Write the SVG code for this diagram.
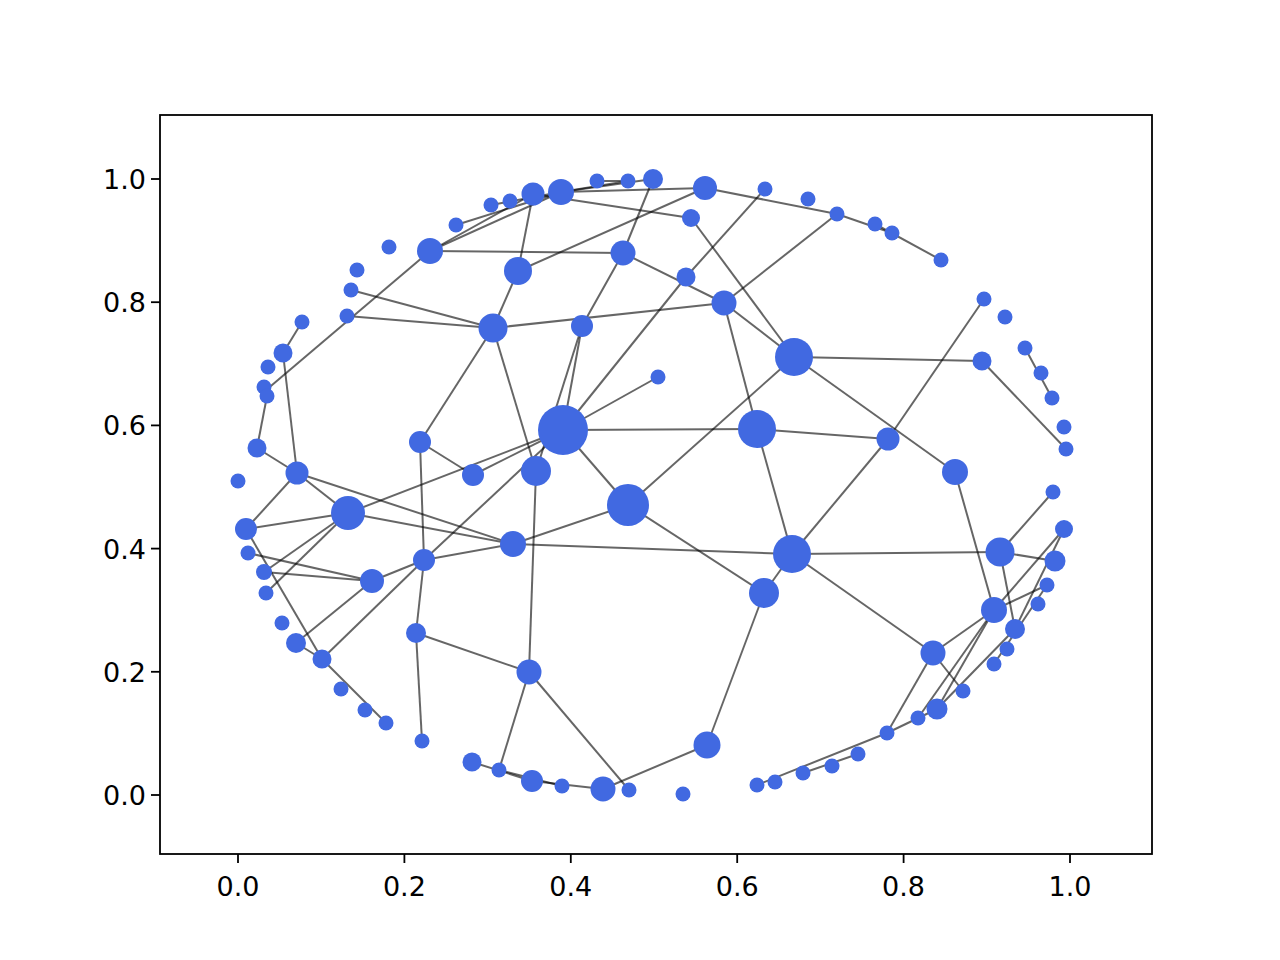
<svg xmlns="http://www.w3.org/2000/svg" width="1280" height="960" viewBox="0 0 1280 960">
<style>
.e{stroke:#000;stroke-opacity:0.6;stroke-width:2;fill:none}
.n{fill:#4169e1}
.t{font-family:"DejaVu Sans","Liberation Sans",sans-serif;font-size:27px;fill:#000}
.tk{stroke:#000;stroke-width:1.8}
</style>
<rect x="0" y="0" width="1280" height="960" fill="#fff"/>
<g id="axes">
<rect x="160" y="115" width="992" height="739" fill="none" stroke="#000" stroke-width="1.8"/>
<g class="tk">
<line x1="238" y1="854" x2="238" y2="863"/><line x1="404.4" y1="854" x2="404.4" y2="863"/><line x1="570.8" y1="854" x2="570.8" y2="863"/><line x1="737.2" y1="854" x2="737.2" y2="863"/><line x1="903.6" y1="854" x2="903.6" y2="863"/><line x1="1070" y1="854" x2="1070" y2="863"/>
<line x1="151" y1="795" x2="160" y2="795"/><line x1="151" y1="671.8" x2="160" y2="671.8"/><line x1="151" y1="548.6" x2="160" y2="548.6"/><line x1="151" y1="425.4" x2="160" y2="425.4"/><line x1="151" y1="302.2" x2="160" y2="302.2"/><line x1="151" y1="179" x2="160" y2="179"/>
</g>
<g class="t" text-anchor="middle">
<text x="238" y="896">0.0</text><text x="404.4" y="896">0.2</text><text x="570.8" y="896">0.4</text><text x="737.2" y="896">0.6</text><text x="903.6" y="896">0.8</text><text x="1070" y="896">1.0</text>
</g>
<g class="t" text-anchor="end">
<text x="146" y="805">0.0</text><text x="146" y="681.8">0.2</text><text x="146" y="558.6">0.4</text><text x="146" y="435.4">0.6</text><text x="146" y="312.2">0.8</text><text x="146" y="189">1.0</text>
</g>
</g>
<g id="edges" class="e">
<line x1="491" y1="205" x2="561" y2="192"/>
<line x1="533" y1="194" x2="691" y2="218"/>
<line x1="533" y1="194" x2="518" y2="271"/>
<line x1="561" y1="192" x2="705" y2="188"/>
<line x1="561" y1="192" x2="653" y2="179"/>
<line x1="561" y1="192" x2="628" y2="181"/>
<line x1="597" y1="181" x2="628" y2="181"/>
<line x1="653" y1="179" x2="623" y2="253"/>
<line x1="705" y1="188" x2="518" y2="271"/>
<line x1="705" y1="188" x2="837" y2="214"/>
<line x1="837" y1="214" x2="892" y2="233"/>
<line x1="875" y1="224" x2="941" y2="260"/>
<line x1="765" y1="189" x2="686" y2="277"/>
<line x1="686" y1="277" x2="563" y2="430"/>
<line x1="456" y1="225" x2="561" y2="192"/>
<line x1="430" y1="251" x2="533" y2="194"/>
<line x1="430" y1="251" x2="561" y2="192"/>
<line x1="430" y1="251" x2="623" y2="253"/>
<line x1="430" y1="251" x2="265" y2="391"/>
<line x1="267" y1="396" x2="257" y2="448"/>
<line x1="351" y1="290" x2="493" y2="328"/>
<line x1="347" y1="316" x2="493" y2="328"/>
<line x1="302" y1="322" x2="283" y2="353"/>
<line x1="283" y1="353" x2="297" y2="473"/>
<line x1="257" y1="448" x2="297" y2="473"/>
<line x1="297" y1="473" x2="246" y2="529"/>
<line x1="297" y1="473" x2="348" y2="513"/>
<line x1="297" y1="473" x2="513" y2="544"/>
<line x1="246" y1="529" x2="348" y2="513"/>
<line x1="246" y1="529" x2="322" y2="659"/>
<line x1="296" y1="643" x2="322" y2="659"/>
<line x1="322" y1="659" x2="386" y2="723"/>
<line x1="348" y1="513" x2="264" y2="572"/>
<line x1="348" y1="513" x2="266" y2="593"/>
<line x1="348" y1="513" x2="563" y2="430"/>
<line x1="348" y1="513" x2="513" y2="544"/>
<line x1="248" y1="553" x2="372" y2="581"/>
<line x1="264" y1="572" x2="372" y2="581"/>
<line x1="372" y1="581" x2="424" y2="560"/>
<line x1="372" y1="581" x2="296" y2="643"/>
<line x1="424" y1="560" x2="322" y2="659"/>
<line x1="424" y1="560" x2="416" y2="633"/>
<line x1="420" y1="442" x2="424" y2="560"/>
<line x1="424" y1="560" x2="563" y2="430"/>
<line x1="424" y1="560" x2="513" y2="544"/>
<line x1="416" y1="633" x2="529" y2="672"/>
<line x1="416" y1="633" x2="422" y2="741"/>
<line x1="420" y1="442" x2="493" y2="328"/>
<line x1="420" y1="442" x2="473" y2="475"/>
<line x1="473" y1="475" x2="563" y2="430"/>
<line x1="493" y1="328" x2="518" y2="271"/>
<line x1="493" y1="328" x2="536" y2="471"/>
<line x1="493" y1="328" x2="724" y2="303"/>
<line x1="623" y1="253" x2="582" y2="326"/>
<line x1="623" y1="253" x2="724" y2="303"/>
<line x1="582" y1="326" x2="563" y2="430"/>
<line x1="582" y1="326" x2="536" y2="471"/>
<line x1="691" y1="218" x2="794" y2="357"/>
<line x1="724" y1="303" x2="837" y2="214"/>
<line x1="724" y1="303" x2="794" y2="357"/>
<line x1="724" y1="303" x2="757" y2="429"/>
<line x1="628" y1="505" x2="794" y2="357"/>
<line x1="794" y1="357" x2="982" y2="361"/>
<line x1="794" y1="357" x2="955" y2="472"/>
<line x1="1066" y1="449" x2="982" y2="361"/>
<line x1="984" y1="299" x2="888" y2="439"/>
<line x1="1025" y1="348" x2="1052" y2="398"/>
<line x1="563" y1="430" x2="658" y2="377"/>
<line x1="563" y1="430" x2="757" y2="429"/>
<line x1="563" y1="430" x2="628" y2="505"/>
<line x1="628" y1="505" x2="513" y2="544"/>
<line x1="628" y1="505" x2="764" y2="593"/>
<line x1="513" y1="544" x2="792" y2="554"/>
<line x1="536" y1="471" x2="529" y2="672"/>
<line x1="529" y1="672" x2="499" y2="770"/>
<line x1="529" y1="672" x2="629" y2="790"/>
<line x1="707" y1="745" x2="603" y2="789"/>
<line x1="764" y1="593" x2="707" y2="745"/>
<line x1="472" y1="762" x2="532" y2="781"/>
<line x1="499" y1="770" x2="562" y2="786"/>
<line x1="532" y1="781" x2="603" y2="789"/>
<line x1="757" y1="429" x2="792" y2="554"/>
<line x1="757" y1="429" x2="888" y2="439"/>
<line x1="888" y1="439" x2="792" y2="554"/>
<line x1="792" y1="554" x2="764" y2="593"/>
<line x1="792" y1="554" x2="933" y2="653"/>
<line x1="792" y1="554" x2="1000" y2="552"/>
<line x1="1000" y1="552" x2="1053" y2="492"/>
<line x1="1000" y1="552" x2="1055" y2="561"/>
<line x1="1000" y1="552" x2="1015" y2="629"/>
<line x1="1064" y1="529" x2="1015" y2="629"/>
<line x1="1064" y1="529" x2="994" y2="610"/>
<line x1="955" y1="472" x2="994" y2="610"/>
<line x1="933" y1="653" x2="994" y2="610"/>
<line x1="933" y1="653" x2="963" y2="691"/>
<line x1="933" y1="653" x2="887" y2="733"/>
<line x1="994" y1="610" x2="1047" y2="585"/>
<line x1="994" y1="610" x2="918" y2="718"/>
<line x1="994" y1="610" x2="937" y2="709"/>
<line x1="1015" y1="629" x2="937" y2="709"/>
<line x1="994" y1="664" x2="1047" y2="585"/>
<line x1="757" y1="785" x2="887" y2="733"/>
<line x1="887" y1="733" x2="937" y2="709"/>
<line x1="803" y1="773" x2="858" y2="754"/>
</g>
<g class="n">
<g id="n1"><circle cx="491" cy="205" r="7.5"/></g>
<g id="n2"><circle cx="510" cy="201" r="7.5"/></g>
<g id="n3"><circle cx="533" cy="194" r="11.5"/></g>
<g id="n4"><circle cx="561" cy="192" r="13"/></g>
<g id="n5"><circle cx="597" cy="181" r="7.5"/></g>
<g id="n6"><circle cx="628" cy="181" r="7.5"/></g>
<g id="n7"><circle cx="653" cy="179" r="10"/></g>
<g id="n8"><circle cx="705" cy="188" r="12"/></g>
<g id="n9"><circle cx="765" cy="189" r="7.5"/></g>
<g id="n10"><circle cx="808" cy="199" r="7.5"/></g>
<g id="n11"><circle cx="837" cy="214" r="7.5"/></g>
<g id="n12"><circle cx="875" cy="224" r="7.5"/></g>
<g id="n13"><circle cx="892" cy="233" r="7.5"/></g>
<g id="n14"><circle cx="941" cy="260" r="7.5"/></g>
<g id="n15"><circle cx="456" cy="225" r="7.5"/></g>
<g id="n16"><circle cx="430" cy="251" r="13"/></g>
<g id="n17"><circle cx="389" cy="247" r="7.5"/></g>
<g id="n18"><circle cx="357" cy="270" r="7.5"/></g>
<g id="n19"><circle cx="351" cy="290" r="7.5"/></g>
<g id="n20"><circle cx="347" cy="316" r="7.5"/></g>
<g id="n21"><circle cx="302" cy="322" r="7.5"/></g>
<g id="n22"><circle cx="283" cy="353" r="9.5"/></g>
<g id="n23"><circle cx="268" cy="367" r="7.5"/></g>
<g id="n24"><circle cx="264" cy="387" r="7.5"/></g>
<g id="n25"><circle cx="267" cy="396" r="7.5"/></g>
<g id="n26"><circle cx="257" cy="448" r="9.5"/></g>
<g id="n27"><circle cx="238" cy="481" r="7.5"/></g>
<g id="n28"><circle cx="297" cy="473" r="11.5"/></g>
<g id="n29"><circle cx="246" cy="529" r="11"/></g>
<g id="n30"><circle cx="248" cy="553" r="7.5"/></g>
<g id="n31"><circle cx="264" cy="572" r="8"/></g>
<g id="n32"><circle cx="266" cy="593" r="7.5"/></g>
<g id="n33"><circle cx="282" cy="623" r="7.5"/></g>
<g id="n34"><circle cx="296" cy="643" r="10"/></g>
<g id="n35"><circle cx="322" cy="659" r="9.5"/></g>
<g id="n36"><circle cx="341" cy="689" r="7.5"/></g>
<g id="n37"><circle cx="365" cy="710" r="7.5"/></g>
<g id="n38"><circle cx="386" cy="723" r="7.5"/></g>
<g id="n39"><circle cx="348" cy="513" r="17"/></g>
<g id="n40"><circle cx="372" cy="581" r="12"/></g>
<g id="n41"><circle cx="424" cy="560" r="11"/></g>
<g id="n42"><circle cx="420" cy="442" r="11"/></g>
<g id="n43"><circle cx="473" cy="475" r="11"/></g>
<g id="n44"><circle cx="416" cy="633" r="10"/></g>
<g id="n45"><circle cx="422" cy="741" r="7.5"/></g>
<g id="n46"><circle cx="472" cy="762" r="9.5"/></g>
<g id="n47"><circle cx="499" cy="770" r="7.5"/></g>
<g id="n48"><circle cx="532" cy="781" r="11"/></g>
<g id="n49"><circle cx="562" cy="786" r="7.5"/></g>
<g id="n50"><circle cx="603" cy="789" r="12.5"/></g>
<g id="n51"><circle cx="629" cy="790" r="7.5"/></g>
<g id="n52"><circle cx="683" cy="794" r="7.5"/></g>
<g id="n53"><circle cx="529" cy="672" r="12.5"/></g>
<g id="n54"><circle cx="513" cy="544" r="13"/></g>
<g id="n55"><circle cx="536" cy="471" r="15"/></g>
<g id="n56"><circle cx="563" cy="430" r="25"/></g>
<g id="n57"><circle cx="628" cy="505" r="21"/></g>
<g id="n58"><circle cx="658" cy="377" r="7.5"/></g>
<g id="n59"><circle cx="582" cy="326" r="11"/></g>
<g id="n60"><circle cx="493" cy="328" r="14.5"/></g>
<g id="n61"><circle cx="518" cy="271" r="14"/></g>
<g id="n62"><circle cx="623" cy="253" r="12.5"/></g>
<g id="n63"><circle cx="686" cy="277" r="9.5"/></g>
<g id="n64"><circle cx="691" cy="218" r="9"/></g>
<g id="n65"><circle cx="724" cy="303" r="12.5"/></g>
<g id="n66"><circle cx="794" cy="357" r="19"/></g>
<g id="n67"><circle cx="757" cy="429" r="19"/></g>
<g id="n68"><circle cx="792" cy="554" r="19"/></g>
<g id="n69"><circle cx="764" cy="593" r="15"/></g>
<g id="n70"><circle cx="707" cy="745" r="13.5"/></g>
<g id="n71"><circle cx="757" cy="785" r="7.5"/></g>
<g id="n72"><circle cx="775" cy="782" r="7.5"/></g>
<g id="n73"><circle cx="803" cy="773" r="7.5"/></g>
<g id="n74"><circle cx="832" cy="766" r="7.5"/></g>
<g id="n75"><circle cx="858" cy="754" r="7.5"/></g>
<g id="n76"><circle cx="887" cy="733" r="7.5"/></g>
<g id="n77"><circle cx="918" cy="718" r="7.5"/></g>
<g id="n78"><circle cx="937" cy="709" r="10.5"/></g>
<g id="n79"><circle cx="963" cy="691" r="7.5"/></g>
<g id="n80"><circle cx="933" cy="653" r="12.5"/></g>
<g id="n81"><circle cx="888" cy="439" r="11.5"/></g>
<g id="n82"><circle cx="955" cy="472" r="13"/></g>
<g id="n83"><circle cx="984" cy="299" r="7.5"/></g>
<g id="n84"><circle cx="1005" cy="317" r="7.5"/></g>
<g id="n85"><circle cx="1025" cy="348" r="7.5"/></g>
<g id="n86"><circle cx="1041" cy="373" r="7.5"/></g>
<g id="n87"><circle cx="1052" cy="398" r="7.5"/></g>
<g id="n88"><circle cx="1064" cy="427" r="7.5"/></g>
<g id="n89"><circle cx="1066" cy="449" r="7.5"/></g>
<g id="n90"><circle cx="982" cy="361" r="9.5"/></g>
<g id="n91"><circle cx="1053" cy="492" r="7.5"/></g>
<g id="n92"><circle cx="1064" cy="529" r="9"/></g>
<g id="n93"><circle cx="1055" cy="561" r="10.5"/></g>
<g id="n94"><circle cx="1000" cy="552" r="14.5"/></g>
<g id="n95"><circle cx="1047" cy="585" r="7.5"/></g>
<g id="n96"><circle cx="1038" cy="604" r="7.5"/></g>
<g id="n97"><circle cx="994" cy="610" r="13"/></g>
<g id="n98"><circle cx="1015" cy="629" r="10"/></g>
<g id="n99"><circle cx="1007" cy="649" r="7.5"/></g>
<g id="n100"><circle cx="994" cy="664" r="7.5"/></g>
</g>
</svg>
